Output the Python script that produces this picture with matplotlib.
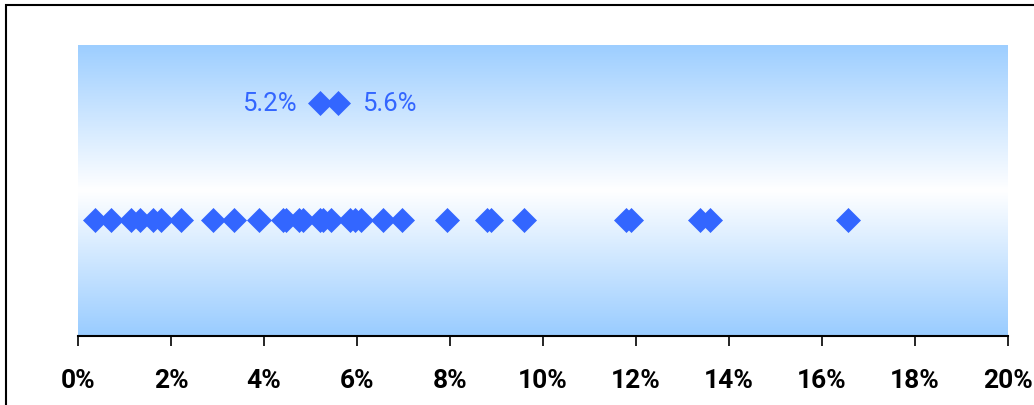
import matplotlib
matplotlib.use("Agg")
import matplotlib.pyplot as plt
import numpy as np
from matplotlib.colors import LinearSegmentedColormap
from matplotlib.patches import Rectangle
from matplotlib.ticker import FuncFormatter

# Data (percent values)
strip_values = [0.37, 0.71, 1.14, 1.33, 1.61, 1.78, 2.22, 2.90, 3.35, 3.89,
                4.41, 4.47, 4.75, 4.84, 5.20, 5.27, 5.44, 5.85, 5.96, 6.09,
                6.56, 6.97, 7.94, 8.80, 8.88, 9.59, 11.78, 11.89, 13.38, 13.59,
                16.56]
highlight_values = [5.2, 5.6]
highlight_labels = ["5.2%", "5.6%"]
strip_level = 0.4
highlight_level = 0.8
x_ticks = [0, 2, 4, 6, 8, 10, 12, 14, 16, 18, 20]

plt.rcParams['font.family'] = ['Roboto', 'DejaVu Sans']

W, H = 1034, 406
fig = plt.figure(figsize=(W / 100, H / 100), dpi=100)
ax = fig.add_axes([78 / W, 1 - 337 / H, (1008 - 78) / W, (337 - 46) / H])

# gradient background
cmap = LinearSegmentedColormap.from_list("bg", [(0, "#99CCFF"), (0.5, "#FFFFFF"), (1, "#9DCEFF")])
grad = np.linspace(0, 1, 256).reshape(-1, 1)
ax.imshow(grad, aspect='auto', cmap=cmap, extent=[0, 20, 0, 1], origin='lower', zorder=0)

blue = "#3366FF"
ax.plot(strip_values, [strip_level] * len(strip_values), linestyle='none', marker='D',
        markersize=12.6, color=blue, markeredgewidth=0.5, markeredgecolor=blue, zorder=3)
ax.plot(highlight_values, [highlight_level] * len(highlight_values), linestyle='none', marker='D',
        markersize=12.6, color=blue, markeredgewidth=0.5, markeredgecolor=blue, zorder=3)

ax.annotate(highlight_labels[0], (highlight_values[0], highlight_level), xytext=(-17, 0),
            textcoords='offset points', ha='right', va='center', color=blue, fontsize=18.5)
ax.annotate(highlight_labels[1], (highlight_values[1], highlight_level), xytext=(17, 0),
            textcoords='offset points', ha='left', va='center', color=blue, fontsize=18.5)

ax.set_xlim(0, 20)
ax.set_ylim(0, 1)
ax.set_xticks(x_ticks)
ax.xaxis.set_major_formatter(FuncFormatter(lambda v, p: f"{v:.0f}%"))
ax.set_yticks([])
for s in ['top', 'right', 'left']:
    ax.spines[s].set_visible(False)
ax.spines['bottom'].set_linewidth(1.5)
ax.tick_params(axis='x', direction='out', length=7, width=1.2, pad=16, labelsize=19)
for lbl in ax.get_xticklabels():
    lbl.set_fontweight('bold')

# outer chart frame
fig.patches.append(Rectangle((6 / W, -0.05), 1.1, 1 - 6 / H + 0.05, transform=fig.transFigure,
                             fill=False, edgecolor='black', linewidth=1.5))

fig.savefig("out.png", dpi=100)
